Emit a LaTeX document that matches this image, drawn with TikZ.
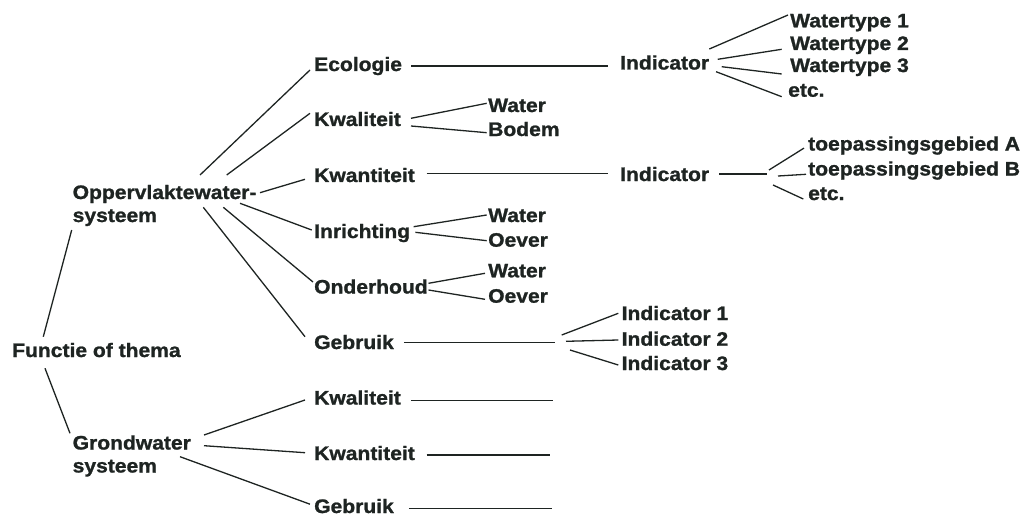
\documentclass[tikz,border=0pt]{standalone}
\usepackage{fontspec}
\newfontfamily\lblfont{Liberation Sans Bold}[FakeStretch=1.08,FakeBold=1.2]
\usetikzlibrary{calc}
\definecolor{ink}{HTML}{1E2422}
\begin{document}
\begin{tikzpicture}[x=1pt,y=-1pt,
  lbl/.style={inner sep=0pt, anchor=base west, font=\lblfont\fontsize{19.5}{23}\selectfont, text=ink},
  con/.style={draw=ink, line width=1.3pt}]
\useasboundingbox (0,0) rectangle (1028,516);
% nodes
\node[lbl] (F) at (12,357) {Functie of thema};
\node[lbl,align=left] (O) at (72.5,222) {Oppervlaktewater-\\systeem};
\node[lbl,align=left] (G) at (72.5,472.5) {Grondwater\\systeem};
\node[lbl] (eco) at (314,71) {Ecologie};
\node[lbl] (kwal1) at (314,126) {Kwaliteit};
\node[lbl] (kwan1) at (314,182) {Kwantiteit};
\node[lbl] (inr) at (314,238) {Inrichting};
\node[lbl] (ond) at (314,293.5) {Onderhoud};
\node[lbl] (geb1) at (314,349) {Gebruik};
\node[lbl] (kwal2) at (314,404.5) {Kwaliteit};
\node[lbl] (kwan2) at (314,460) {Kwantiteit};
\node[lbl] (geb2) at (314,513) {Gebruik};
\node[lbl] (ind1) at (620,69.5) {Indicator};
\node[lbl] (ind2) at (620,181) {Indicator};
\node[lbl] (wt1) at (790,27.3) {Watertype 1};
\node[lbl] (wt2) at (790,50) {Watertype 2};
\node[lbl] (wt3) at (790,72) {Watertype 3};
\node[lbl] (etc1) at (788,96.7) {etc.};
\node[lbl] (kwW) at (488,112) {Water};
\node[lbl] (kwB) at (488,136) {Bodem};
\node[lbl] (inW) at (488,222) {Water};
\node[lbl] (inO) at (488,246.7) {Oever};
\node[lbl] (onW) at (488,277.3) {Water};
\node[lbl] (onO) at (488,302.7) {Oever};
\node[lbl] (tA) at (808,150.5) {toepassingsgebied A};
\node[lbl] (tB) at (808,175.5) {toepassingsgebied B};
\node[lbl] (tE) at (808,200) {etc.};
\node[lbl] (i1) at (621.5,320) {Indicator 1};
\node[lbl] (i2) at (621.5,345.7) {Indicator 2};
\node[lbl] (i3) at (621.5,370) {Indicator 3};
% junctions and free ends
\coordinate (j1) at (555,342.7);
\coordinate (j2) at (767,174);
\coordinate (e2) at (553,400.5);
\coordinate (e3) at (550,455);
\coordinate (e4) at (552,508.5);
% level 0 -> 1
\draw[con] ($(F.base west)+(31.3,-20.3)$) -- ($(O.base west)+(-0.8,8)$);
\draw[con] ($(F.base west)+(33,11.3)$) -- ($(G.base west)+(-2.5,-39.2)$);
% Oppervlaktewater fan
\draw[con] ($(O.base west)+(127.5,-47)$) -- ($(eco.base west)+(-4,-1)$);
\draw[con] ($(O.base west)+(154.2,-47)$) -- ($(kwal1.base west)+(-4,-12.7)$);
\draw[con] ($(O.base west)+(187.5,-29.3)$) -- ($(kwan1.base west)+(-9,-2.7)$);
\draw[con] ($(O.base west)+(167.5,-18.7)$) -- ($(inr.base west)+(-2.3,-8)$);
\draw[con] ($(O.base west)+(150.8,-14.7)$) -- ($(ond.base west)+(-1,-11.5)$);
\draw[con] ($(O.base west)+(130.8,-14.7)$) -- ($(geb1.base west)+(-9,-12.3)$);
% Grondwater fan
\draw[con] ($(G.base west)+(131.5,-37.5)$) -- ($(kwal2.base west)+(-9,-4.5)$);
\draw[con] ($(G.base west)+(131.5,-26.8)$) -- ($(kwan2.base west)+(-9,-7.3)$);
\draw[con] ($(G.base west)+(107.5,-15.8)$) -- ($(geb2.base west)+(-4,-8.8)$);
% level 2 -> 3
\draw[con] ($(eco.base east)+(9,-5)$) -- ($(ind1.base west)+(-12,-3.5)$);
\draw[con] ($(kwan1.base east)+(11.7,-8.7)$) -- ($(ind2.base west)+(-12,-7.7)$);
\draw[con] ($(kwal1.base east)+(10,-7.7)$) -- ($(kwW.base west)+(-1.3,-8.7)$);
\draw[con] ($(kwal1.base east)+(10,0)$) -- ($(kwB.base west)+(-1.3,-3.3)$);
\draw[con] ($(inr.base east)+(3.3,-11.3)$) -- ($(inW.base west)+(-1.3,-7)$);
\draw[con] ($(inr.base east)+(5,-5.7)$) -- ($(inO.base west)+(-1.3,-6)$);
\draw[con] ($(ond.base east)+(0.6,-10.2)$) -- ($(onW.base west)+(-3,-4)$);
\draw[con] ($(ond.base east)+(0.6,-3.5)$) -- ($(onO.base west)+(-3,-3.4)$);
\draw[con] ($(geb1.base east)+(10,-6.3)$) -- (j1);
\draw[con] ($(kwal2.base east)+(10,-4)$) -- (e2);
\draw[con] ($(kwan2.base east)+(11.7,-5)$) -- (e3);
\draw[con] ($(geb2.base east)+(15,-4.5)$) -- (e4);
% Indicator (ecologie) fan
\draw[con] ($(ind1.base east)+(0,-20.5)$) -- ($(wt1.base west)+(-2,-12.3)$);
\draw[con] ($(ind1.base east)+(8.4,-10.2)$) -- ($(wt2.base west)+(-8.3,-0.7)$);
\draw[con] ($(ind1.base east)+(12.4,-2.8)$) -- ($(wt3.base west)+(-8.3,2)$);
\draw[con] ($(ind1.base east)+(6.7,2.2)$) -- ($(etc1.base west)+(-6.3,0)$);
% Indicator (kwantiteit) fan
\draw[con] ($(ind2.base east)+(10,-7)$) -- (j2);
\draw[con] ($(j2)+(2,-4)$) -- ($(tA.base west)+(-4,-2.4)$);
\draw[con] ($(j2)+(11,2)$) -- ($(tB.base west)+(-2,-1.2)$);
\draw[con] ($(j2)+(6,11)$) -- ($(tE.base west)+(-4.7,-1)$);
% Gebruik fan
\draw[con] ($(j1)+(6.7,-7.7)$) -- ($(i1.base west)+(-3.2,-6.7)$);
\draw[con] ($(j1)+(11,-1.4)$) -- ($(i2.base west)+(-3.2,-5.7)$);
\draw[con] ($(j1)+(15,7.3)$) -- ($(i3.base west)+(-3.2,-5)$);
\end{tikzpicture}
\end{document}
